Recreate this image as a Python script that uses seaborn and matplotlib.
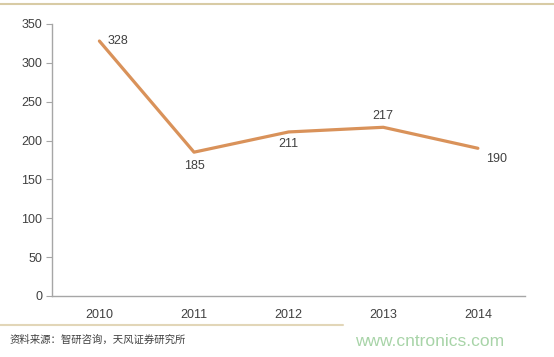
import matplotlib
matplotlib.use("Agg")
import matplotlib.pyplot as plt
import seaborn as sns
import pandas as pd
from matplotlib.lines import Line2D

years = ["2010", "2011", "2012", "2013", "2014"]
values = [328, 185, 211, 217, 190]
yticks = [0, 50, 100, 150, 200, 250, 300, 350]
source = "资料来源：智研咨询，天风证券研究所"
watermark = "www.cntronics.com"

sns.set_style("white")
plt.rcParams['font.family'] = ['Liberation Sans', 'Noto Sans CJK SC', 'DejaVu Sans']

df = pd.DataFrame({"year": years, "value": values})

fig = plt.figure(figsize=(5.54, 3.57), dpi=100)
ax = fig.add_axes([0.094, 0.171, 0.854, 0.762])
sns.lineplot(data=df, x="year", y="value", ax=ax, color="#D9925A", linewidth=2.3, sort=False)

ax.set_xlim(-0.5, len(years) - 0.5)
ax.set_ylim(0, 350)
ax.set_yticks(yticks)
ax.set_xlabel("")
ax.set_ylabel("")
for s in ["top", "right"]:
    ax.spines[s].set_visible(False)
for s in ["left", "bottom"]:
    ax.spines[s].set_color("#A6A6A6")
    ax.spines[s].set_linewidth(1.0)
ax.tick_params(axis="y", left=True, length=4, color="#A6A6A6", labelsize=9, labelcolor="#404040", pad=3)
ax.tick_params(axis="x", bottom=False, labelsize=9, labelcolor="#404040", pad=6)

offsets = [(6, 0, "left", "center"), (0, -6, "center", "top"),
           (0, -4, "center", "top"), (0, 4, "center", "bottom"),
           (6, -8, "left", "center")]
for i, (v, (dx, dy, ha, va)) in enumerate(zip(values, offsets)):
    ax.annotate(str(v), (i, v), xytext=(dx, dy), textcoords="offset points",
                ha=ha, va=va, fontsize=9, color="#404040")

fig.add_artist(Line2D([0, 1], [1 - 4 / 357, 1 - 4 / 357], transform=fig.transFigure,
                      color="#D8CBA5", linewidth=1.5))
fig.add_artist(Line2D([0.0, 0.62], [1 - 325 / 357] * 2, transform=fig.transFigure,
                      color="#E2D6B8", linewidth=1.5))
fig.text(0.018, 1 - 340 / 357, source, fontsize=7.5, color="#404040", va="center", ha="left",
         family=["Noto Sans CJK SC"])
fig.text(0.91, 1 - 341 / 357, watermark, fontsize=12.5, color="#A8D4A8", va="center", ha="right",
         family=["Liberation Sans"])

fig.savefig("out.png", dpi=100)
